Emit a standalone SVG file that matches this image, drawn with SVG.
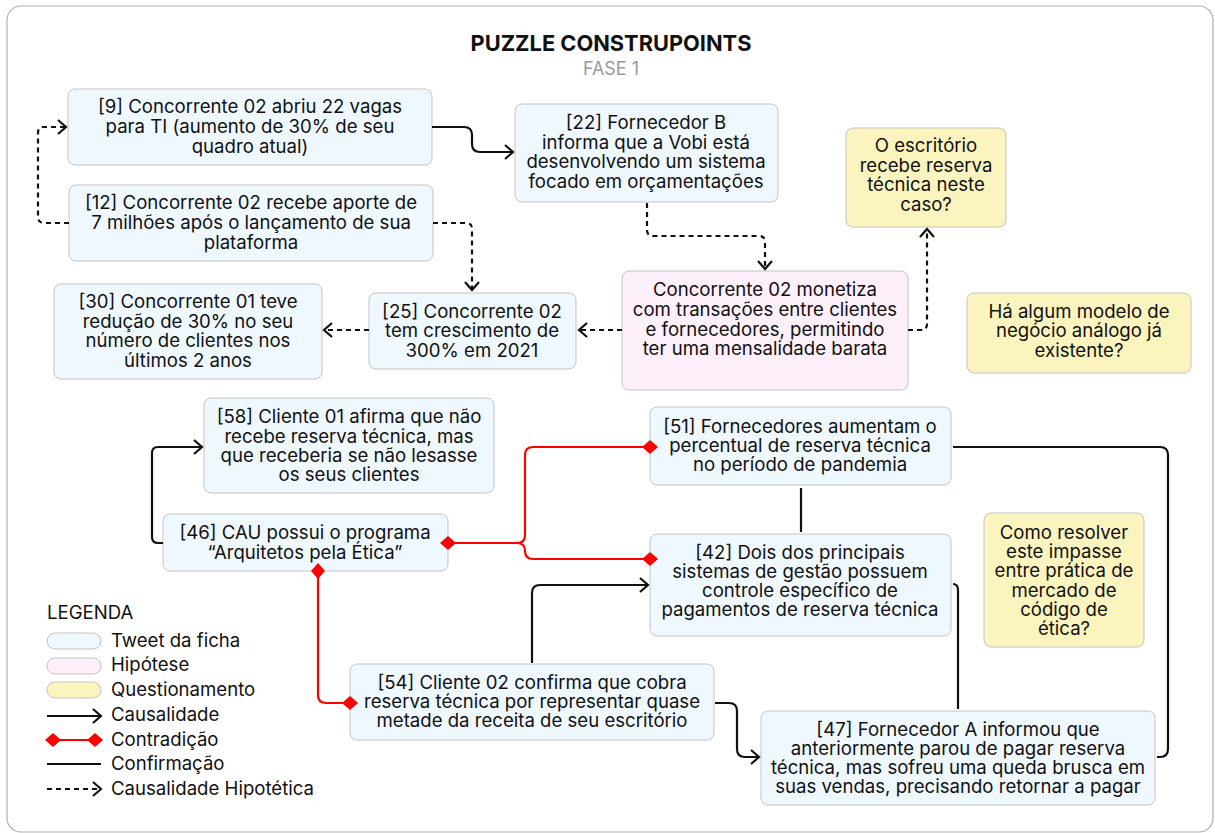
<svg xmlns="http://www.w3.org/2000/svg" width="1215" height="833" viewBox="0 0 1215 833">
  <style>
    text { font-family: Inter, "Noto Sans", "Liberation Sans", sans-serif; font-size: 18.6px; fill: #111; }
    .c { text-anchor: middle; }
    .tweet { fill: #eff8fe; stroke: #c4c4c4; stroke-width: 1; }
    .hyp { fill: #fdf0fb; stroke: #c4c4c4; stroke-width: 1; }
    .quest { fill: #fbf4bf; stroke: #c4c4c4; stroke-width: 1; }
    .cause { fill: none; stroke: #111; stroke-width: 2.2; marker-end: url(#arr); }
    .hcause { fill: none; stroke: #111; stroke-width: 2.2; stroke-dasharray: 5 4; marker-end: url(#arr); }
    .contra { fill: none; stroke: #f00; stroke-width: 2.2; }
    .confirm { fill: none; stroke: #111; stroke-width: 2.2; }
    .dia { fill: #f00; }
  </style>
  <defs>
    <marker id="arr" markerUnits="userSpaceOnUse" markerWidth="14" markerHeight="18" refX="11" refY="9" orient="auto">
      <path d="M3,2 L11,9 L3,16" fill="none" stroke="#111" stroke-width="2.2"/>
    </marker>
    <path id="diamond" d="M-8,0 L0,-7 L8,0 L0,7Z"/>
  </defs>

  <rect x="7" y="6" width="1206" height="826" rx="14" fill="#fff" stroke="#b0b0b0" stroke-width="1.2"/>

  <text class="c" x="611" y="51" style="font-size:21.8px;font-weight:700">PUZZLE CONSTRUPOINTS</text>
  <text class="c" x="611" y="75" style="font-size:18px;fill:#9a9a9a">FASE 1</text>

  <!-- nodes -->
  <g id="n9">
    <rect class="tweet" x="68" y="89" width="364" height="76" rx="7"/>
    <text class="c" x="250" y="113">[9] Concorrente 02 abriu 22 vagas</text>
    <text class="c" x="250" y="133">para TI (aumento de 30% de seu</text>
    <text class="c" x="250" y="153">quadro atual)</text>
  </g>
  <g id="n12">
    <rect class="tweet" x="69" y="185" width="364" height="76" rx="7"/>
    <text class="c" x="251" y="209">[12] Concorrente 02 recebe aporte de</text>
    <text class="c" x="251" y="229">7 milhões após o lançamento de sua</text>
    <text class="c" x="251" y="249">plataforma</text>
  </g>
  <g id="n22">
    <rect class="tweet" x="515" y="104" width="263" height="98" rx="7"/>
    <text class="c" x="646" y="129">[22] Fornecedor B</text>
    <text class="c" x="646" y="149">informa que a Vobi está</text>
    <text class="c" x="646" y="168">desenvolvendo um sistema</text>
    <text class="c" x="646" y="188">focado em orçamentações</text>
  </g>
  <g id="q-escritorio">
    <rect class="quest" x="846" y="128" width="160" height="99" rx="7"/>
    <text class="c" x="926" y="152">O escritório</text>
    <text class="c" x="926" y="172">recebe reserva</text>
    <text class="c" x="926" y="191">técnica neste</text>
    <text class="c" x="926" y="211">caso?</text>
  </g>
  <g id="hip-monetiza">
    <rect class="hyp" x="622" y="271" width="286" height="119" rx="7"/>
    <text class="c" x="765" y="296">Concorrente 02 monetiza</text>
    <text class="c" x="765" y="316">com transações entre clientes</text>
    <text class="c" x="765" y="336">e fornecedores, permitindo</text>
    <text class="c" x="765" y="355">ter uma mensalidade barata</text>
  </g>
  <g id="n25">
    <rect class="tweet" x="369" y="293" width="207" height="76" rx="7"/>
    <text class="c" x="472" y="318">[25] Concorrente 02</text>
    <text class="c" x="472" y="337">tem crescimento de</text>
    <text class="c" x="472" y="357">300% em 2021</text>
  </g>
  <g id="n30">
    <rect class="tweet" x="54" y="284" width="268" height="95" rx="7"/>
    <text class="c" x="188" y="308">[30] Concorrente 01 teve</text>
    <text class="c" x="188" y="328">redução de 30% no seu</text>
    <text class="c" x="188" y="347">número de clientes nos</text>
    <text class="c" x="188" y="367">últimos 2 anos</text>
  </g>
  <g id="q-modelo">
    <rect class="quest" x="967" y="293" width="224" height="80" rx="7"/>
    <text class="c" x="1079" y="318">Há algum modelo  de</text>
    <text class="c" x="1079" y="337">negócio análogo já</text>
    <text class="c" x="1079" y="357">existente?</text>
  </g>
  <g id="n58">
    <rect class="tweet" x="204" y="398" width="290" height="95" rx="7"/>
    <text class="c" x="349" y="423">[58] Cliente 01 afirma que não</text>
    <text class="c" x="349" y="443">recebe reserva técnica, mas</text>
    <text class="c" x="349" y="462">que receberia se não lesasse</text>
    <text class="c" x="349" y="481">os seus clientes</text>
  </g>
  <g id="n46">
    <rect class="tweet" x="163" y="514" width="285" height="57" rx="7"/>
    <text class="c" x="305" y="539">[46] CAU possui o programa</text>
    <text class="c" x="305" y="559">“Arquitetos pela Ética”</text>
  </g>
  <g id="n51">
    <rect class="tweet" x="650" y="407" width="301" height="78" rx="7"/>
    <text class="c" x="800" y="433">[51] Fornecedores aumentam o</text>
    <text class="c" x="800" y="452">percentual de reserva técnica</text>
    <text class="c" x="800" y="471">no período de pandemia</text>
  </g>
  <g id="n42">
    <rect class="tweet" x="650" y="534" width="301" height="102" rx="7"/>
    <text class="c" x="800" y="559">[42] Dois dos principais</text>
    <text class="c" x="800" y="578">sistemas de gestão possuem</text>
    <text class="c" x="800" y="597">controle específico de</text>
    <text class="c" x="800" y="616">pagamentos de reserva técnica</text>
  </g>
  <g id="q-impasse">
    <rect class="quest" x="984" y="513" width="160" height="134" rx="7"/>
    <text class="c" x="1064" y="539">Como resolver</text>
    <text class="c" x="1064" y="558">este impasse</text>
    <text class="c" x="1064" y="577">entre prática de</text>
    <text class="c" x="1064" y="597">mercado de</text>
    <text class="c" x="1064" y="616">código de</text>
    <text class="c" x="1064" y="635">ética?</text>
  </g>
  <g id="n54">
    <rect class="tweet" x="350" y="664" width="364" height="76" rx="7"/>
    <text class="c" x="532" y="689">[54] Cliente 02 confirma que cobra</text>
    <text class="c" x="532" y="708">reserva técnica por representar quase</text>
    <text class="c" x="532" y="727">metade da receita de seu escritório</text>
  </g>
  <g id="n47">
    <rect class="tweet" x="761" y="711" width="394" height="94" rx="7"/>
    <text class="c" x="958" y="736">[47] Fornecedor A informou que</text>
    <text class="c" x="958" y="755">anteriormente parou de pagar reserva</text>
    <text class="c" x="958" y="774">técnica, mas sofreu uma queda brusca em</text>
    <text class="c" x="958" y="793">suas vendas, precisando retornar a pagar</text>
  </g>

  <!-- connectors -->
  <g id="connectors">
    <path class="cause" d="M432,127 H464 Q472,127 472,135 V144 Q472,152 480,152 H513"/>
    <path class="hcause" d="M69,223 H44 Q38,223 38,217 V133 Q38,127 44,127 H66"/>
    <path class="hcause" d="M433,223 H466 Q472,223 472,229 V290"/>
    <path class="hcause" d="M647,203 V230 Q647,236 653,236 H759 Q765,236 765,242 V269"/>
    <path class="hcause" d="M622,330 H579"/>
    <path class="hcause" d="M369,330 H324"/>
    <path class="hcause" d="M908,330 H921 Q927,330 927,324 V229"/>
    <path class="cause" d="M163,543 H158 Q152,543 152,537 V453 Q152,447 158,447 H202"/>
    <path class="cause" d="M532,663 V593 Q532,585 540,585 H648"/>
    <path class="cause" d="M715,703 H729 Q737,703 737,711 V749 Q737,757 745,757 H759"/>

    <path class="contra" d="M448,543 H517 Q525,543 525,535 V455 Q525,447 533,447 H650"/>
    <path class="contra" d="M448,543 H517 Q525,543 525,551 Q525,559 533,559 H650"/>
    <path class="contra" d="M318,571 V695 Q318,703 326,703 H350"/>
    <use href="#diamond" class="dia" x="448" y="543"/>
    <use href="#diamond" class="dia" x="650" y="447"/>
    <use href="#diamond" class="dia" x="650" y="559"/>
    <use href="#diamond" class="dia" transform="translate(318,571) rotate(90)"/>
    <use href="#diamond" class="dia" x="350" y="703"/>

    <path class="confirm" d="M801,488 V532"/>
    <path class="confirm" d="M953,447 H1160 Q1168,447 1168,455 V749 Q1168,757 1160,757 H1157"/>
    <path class="confirm" d="M953,584 Q958,584 958,590 V709"/>
  </g>

  <!-- legend -->
  <g id="legend">
    <text x="47" y="619">LEGENDA</text>
    <rect class="tweet" x="47" y="633" width="54" height="16" rx="8"/>
    <text x="111" y="647">Tweet da ficha</text>
    <rect class="hyp" x="47" y="658" width="54" height="16" rx="8"/>
    <text x="111" y="671">Hipótese</text>
    <rect class="quest" x="47" y="682" width="54" height="16" rx="8"/>
    <text x="111" y="696">Questionamento</text>
    <path class="cause" d="M47,716 H101"/>
    <text x="111" y="721">Causalidade</text>
    <path class="contra" d="M51,740 H97"/>
    <use href="#diamond" class="dia" x="53" y="740"/>
    <use href="#diamond" class="dia" x="95" y="740"/>
    <text x="111" y="746">Contradição</text>
    <path class="confirm" d="M47,764 H101"/>
    <text x="111" y="770">Confirmação</text>
    <path class="hcause" d="M47,789 H101"/>
    <text x="111" y="795">Causalidade Hipotética</text>
  </g>
</svg>
